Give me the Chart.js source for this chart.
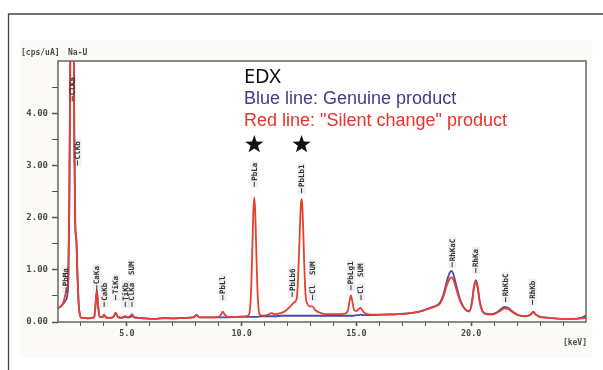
<!DOCTYPE html>
<html>
<head>
<meta charset="utf-8">
<title>EDX spectrum</title>
<script src="https://cdn.jsdelivr.net/npm/chart.js"></script>
<style>
  html, body { margin: 0; padding: 0; background: #fff; }
  #wrap { position: relative; width: 603px; height: 370px; }
</style>
</head>
<body>
<div id="wrap"><canvas id="edx" width="603" height="370"></canvas></div>
<script>
// energy grid [keV] shared by both spectra
const keV = [
  2.00, 2.10, 2.20, 2.28, 2.34, 2.40, 2.45, 2.49, 2.53, 2.57, 2.62, 2.67, 2.71, 2.75, 2.80, 2.85, 2.90, 2.95,
  3.02, 3.15, 3.30, 3.45, 3.58, 3.63, 3.69, 3.75, 3.81, 3.93, 4.01, 4.08, 4.25, 4.42, 4.51, 4.60, 4.75, 4.93,
  5.05, 5.15, 5.22, 5.30, 5.50, 5.80, 6.20, 6.60, 7.00, 7.50, 7.90, 8.04, 8.15, 8.60, 9.00, 9.10, 9.18, 9.26,
  9.40, 9.80, 10.20, 10.33, 10.39, 10.43, 10.47, 10.51, 10.55, 10.59, 10.63, 10.67, 10.71, 10.77, 10.90,
  11.10, 11.30, 11.45, 11.70, 11.90, 12.10, 12.30, 12.40, 12.45, 12.50, 12.55, 12.58, 12.61, 12.64, 12.68,
  12.72, 12.76, 12.80, 12.86, 12.95, 13.08, 13.20, 13.40, 13.70, 14.10, 14.50, 14.64, 14.70, 14.76, 14.82,
  14.90, 15.00, 15.10, 15.18, 15.28, 15.40, 15.70, 16.10, 16.50, 17.00, 17.50, 17.90, 18.20, 18.50, 18.65,
  18.80, 18.95, 19.05, 19.13, 19.22, 19.35, 19.50, 19.65, 19.80, 19.92, 20.03, 20.12, 20.20, 20.28, 20.37,
  20.48, 20.65, 20.85, 21.05, 21.25, 21.45, 21.60, 21.80, 22.05, 22.35, 22.58, 22.70, 22.82, 23.00, 23.40,
  23.90, 24.40, 24.80, 25.00
];

// red line: "silent change" product [cps/uA]
const silentChange = [
  0.27, 0.29, 0.34, 0.45, 0.56, 0.62, 0.95, 2.2, 4.8, 7.5, 8.8, 6.8, 3.6, 1.9, 1.6, 0.9, 0.36, 0.15,
  0.08, 0.08, 0.07, 0.08, 0.10, 0.30, 0.61, 0.30, 0.10, 0.09, 0.14, 0.09, 0.08, 0.10, 0.18, 0.10, 0.08, 0.11,
  0.09, 0.11, 0.15, 0.10, 0.08, 0.07, 0.06, 0.07, 0.07, 0.08, 0.09, 0.13, 0.09, 0.09, 0.10, 0.14, 0.20, 0.14,
  0.10, 0.10, 0.11, 0.15, 0.42, 0.85, 1.50, 2.12, 2.39, 2.12, 1.50, 0.85, 0.42, 0.16, 0.12,
  0.13, 0.17, 0.15, 0.17, 0.21, 0.29, 0.38, 0.45, 0.75, 1.30, 1.95, 2.25, 2.36, 2.25, 1.80,
  1.20, 0.70, 0.45, 0.35, 0.30, 0.30, 0.23, 0.18, 0.15, 0.15, 0.16, 0.24, 0.40, 0.51, 0.40,
  0.23, 0.21, 0.25, 0.27, 0.21, 0.16, 0.14, 0.14, 0.15, 0.15, 0.18, 0.22, 0.26, 0.31, 0.36,
  0.50, 0.72, 0.82, 0.86, 0.81, 0.63, 0.42, 0.29, 0.22, 0.20, 0.36, 0.66, 0.78, 0.66, 0.38,
  0.21, 0.15, 0.14, 0.16, 0.21, 0.26, 0.25, 0.19, 0.13, 0.11, 0.14, 0.20, 0.14, 0.10, 0.08,
  0.06, 0.06, 0.07, 0.08
];

// blue line: genuine product [cps/uA]
const genuine = [
  0.27, 0.29, 0.33, 0.38, 0.42, 0.50, 0.85, 2.1, 4.7, 7.4, 8.7, 6.7, 3.5, 1.85, 1.55, 0.85, 0.34, 0.14,
  0.08, 0.08, 0.07, 0.08, 0.10, 0.30, 0.60, 0.30, 0.10, 0.09, 0.14, 0.09, 0.08, 0.10, 0.17, 0.10, 0.08, 0.10,
  0.09, 0.09, 0.12, 0.09, 0.08, 0.07, 0.06, 0.08, 0.07, 0.08, 0.09, 0.13, 0.09, 0.09, 0.09, 0.09, 0.09, 0.09,
  0.09, 0.10, 0.10, 0.10, 0.10, 0.10, 0.10, 0.10, 0.10, 0.10, 0.10, 0.10, 0.10, 0.11, 0.11,
  0.11, 0.11, 0.11, 0.12, 0.12, 0.12, 0.12, 0.12, 0.12, 0.12, 0.12, 0.12, 0.12, 0.12, 0.12,
  0.12, 0.12, 0.12, 0.12, 0.12, 0.12, 0.12, 0.12, 0.12, 0.12, 0.12, 0.12, 0.12, 0.12, 0.12,
  0.12, 0.13, 0.13, 0.14, 0.13, 0.13, 0.13, 0.14, 0.14, 0.16, 0.18, 0.22, 0.27, 0.32, 0.38,
  0.54, 0.80, 0.93, 0.98, 0.92, 0.70, 0.45, 0.30, 0.22, 0.21, 0.38, 0.68, 0.80, 0.68, 0.40,
  0.22, 0.16, 0.15, 0.17, 0.23, 0.29, 0.27, 0.20, 0.13, 0.11, 0.14, 0.19, 0.14, 0.10, 0.08,
  0.06, 0.06, 0.08, 0.13
];

// peak markers: name, energy [keV], level of marker foot [cps/uA], dash
const peakNames = ['PbMa', 'ClKa', 'ClKb', 'CaKa', 'CaKb', 'TiKa', 'TiKb', 'ClKa', 'SUM', 'PbLl', 'PbLa',
  'PbLb6', 'PbLb1', 'Cl', 'SUM', 'PbLg1', 'Cl', 'SUM', 'RhKaC', 'RhKa', 'RhKbC', 'RhKb'];
const peakKeV = [2.35, 2.62, 2.85, 3.69, 4.01, 4.51, 4.93, 5.22, 5.22, 9.18, 10.55,
  12.20, 12.61, 13.09, 13.09, 14.76, 15.20, 15.20, 19.17, 20.20, 21.50, 22.67];
const peakLevel = [0.57, 4.23, 3.0, 0.61, 0.29, 0.42, 0.29, 0.29, 0.90, 0.42, 2.59,
  0.48, 2.47, 0.42, 0.90, 0.61, 0.42, 0.86, 1.05, 0.94, 0.38, 0.33];

const yTickVals = [0, 0.5, 1, 1.5, 2, 2.5, 3, 3.5, 4, 4.5];
const xTickVals = [3, 4, 5, 6, 7, 8, 9, 10, 11, 12, 13, 14, 15, 16, 17, 18, 19, 20, 21, 22, 23, 24];
const starKeV = [10.55, 12.61];

const RED = '#e9402c';
const BLUE = '#4a4aa6';
const AXIS = '#555555';
const MONO = '"DejaVu Sans Mono", "Liberation Mono", monospace';

const decor = {
  id: 'decor',
  beforeDraw(chart) {
    const c = chart.ctx, a = chart.chartArea;
    c.save();
    c.fillStyle = '#fbfaf7';
    c.fillRect(20, 40, 572, 318);
    c.fillStyle = '#ffffff';
    c.fillRect(a.left, a.top, a.right - a.left, a.bottom - a.top);
    // outer frame
    c.strokeStyle = '#444';
    c.lineWidth = 1.3;
    c.beginPath();
    c.moveTo(8.5, 370); c.lineTo(8.5, 14); c.lineTo(603, 14);
    c.stroke();
    c.restore();
  },
  afterDraw(chart) {
    const c = chart.ctx, a = chart.chartArea;
    const xs = chart.scales.x, ys = chart.scales.y;
    c.save();
    // plot border
    c.strokeStyle = '#666';
    c.lineWidth = 1.5;
    c.strokeRect(a.left, a.top, a.right - a.left, a.bottom - a.top);

    // unit labels
    c.fillStyle = '#4a4a4a';
    c.font = 'bold 8px ' + MONO;
    c.textBaseline = 'middle';
    c.textAlign = 'left';
    c.fillText('[cps/uA]', 21, 53);
    c.fillText('Na-U', 68, 53);
    c.textAlign = 'right';
    c.fillText('[keV]', 587, 343);

    // peak markers
    c.font = 'bold 7.5px ' + MONO;
    peakNames.forEach((name, i) => {
      const px = xs.getPixelForValue(peakKeV[i]);
      const py = ys.getPixelForValue(peakLevel[i]);
      const dash = name !== 'SUM';
      c.save();
      c.translate(px, py);
      c.rotate(-Math.PI / 2);
      const off = dash ? 6 : 0;
      const w = c.measureText(name).width;
      c.fillStyle = 'rgba(0,0,0,0.06)';
      c.fillRect(-1, -4, off + w + 3, 8);
      c.strokeStyle = '#333';
      c.lineWidth = 1;
      if (dash) {
        c.beginPath(); c.moveTo(0, 0); c.lineTo(5, 0); c.stroke();
      }
      c.fillStyle = '#333';
      c.textAlign = 'left';
      c.textBaseline = 'middle';
      c.fillText(name, off, 0.5);
      c.restore();
    });

    // legend text
    c.textAlign = 'left';
    c.textBaseline = 'alphabetic';
    c.fillStyle = '#111';
    c.font = '20px "Noto Sans", "Open Sans", sans-serif';
    c.fillText('EDX', 244, 83);
    c.font = '18px "Liberation Sans", Arial, sans-serif';
    c.fillStyle = '#3d3d8f';
    c.fillText('Blue line: Genuine product', 244, 104);
    c.fillStyle = '#e8322b';
    c.fillText('Red line: "Silent change" product', 244, 126);

    // stars over the Pb peaks
    c.fillStyle = '#111';
    starKeV.forEach(k => {
      const cx = xs.getPixelForValue(k), cy = 144.6, R = 9.6, r = 3.9;
      c.beginPath();
      for (let j = 0; j < 10; j++) {
        const ang = -Math.PI / 2 + j * Math.PI / 5;
        const rad = j % 2 === 0 ? R : r;
        c.lineTo(cx + rad * Math.cos(ang), cy + rad * Math.sin(ang));
      }
      c.closePath();
      c.fill();
    });
    c.restore();
  }
};

const toPoints = vals => keV.map((k, i) => ({ x: k, y: vals[i] }));

new Chart(document.getElementById('edx'), {
  type: 'line',
  data: {
    datasets: [
      {
        label: '"Silent change" product',
        data: toPoints(silentChange),
        borderColor: RED,
        borderWidth: 1.8,
        pointRadius: 0,
        cubicInterpolationMode: 'monotone'
      },
      {
        label: 'Genuine product',
        data: toPoints(genuine),
        borderColor: BLUE,
        borderWidth: 1.8,
        pointRadius: 0,
        cubicInterpolationMode: 'monotone'
      }
    ]
  },
  options: {
    responsive: false,
    animation: false,
    devicePixelRatio: 1,
    layout: { padding: { left: 0, right: 17, top: 61, bottom: 0 } },
    plugins: { legend: { display: false }, tooltip: { enabled: false } },
    scales: {
      x: {
        type: 'linear',
        min: 2,
        max: 25,
        afterFit: s => { s.height = 48; },
        afterBuildTicks: s => { s.ticks = xTickVals.map(v => ({ value: v })); },
        grid: {
          drawOnChartArea: false,
          tickLength: 4,
          tickColor: AXIS,
          tickWidth: ctx => (ctx.tick && ctx.tick.value % 5 === 0 ? 1.6 : 1)
        },
        border: { display: false },
        ticks: {
          autoSkip: false,
          maxRotation: 0,
          padding: 3,
          color: '#4a4a4a',
          font: { family: MONO, size: 8.5, weight: 'bold' },
          callback: v => (v % 5 === 0 ? v.toFixed(1) : '')
        }
      },
      y: {
        min: 0,
        max: 5,
        afterFit: s => { s.width = 58; },
        afterBuildTicks: s => { s.ticks = yTickVals.map(v => ({ value: v })); },
        grid: {
          drawOnChartArea: false,
          tickLength: 6,
          tickColor: AXIS,
          tickWidth: ctx => (ctx.tick && ctx.tick.value % 1 === 0 ? 1.5 : 1)
        },
        border: { display: false },
        ticks: {
          autoSkip: false,
          padding: 4,
          color: '#4a4a4a',
          font: { family: MONO, size: 9, weight: 'bold' },
          callback: v => (v % 1 === 0 ? v.toFixed(2) : '')
        }
      }
    }
  },
  plugins: [decor]
});
</script>
</body>
</html>
